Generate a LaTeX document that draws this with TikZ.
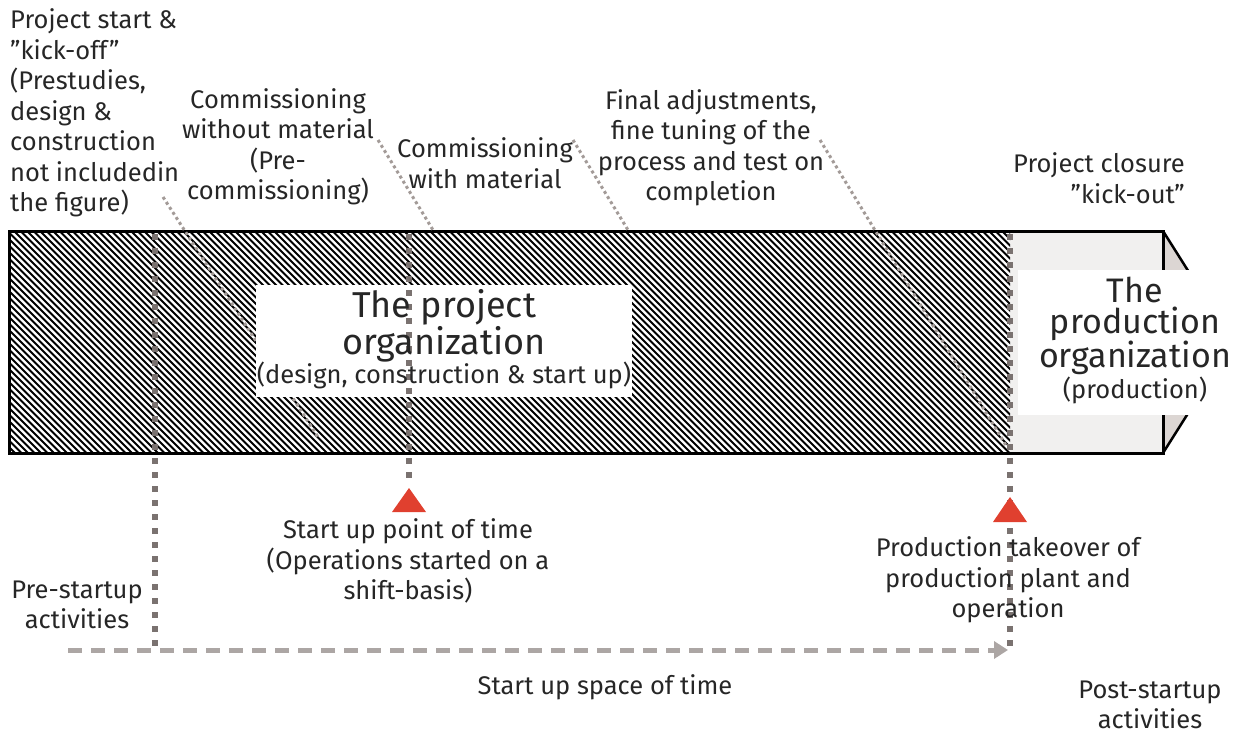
\documentclass[tikz,border=0pt]{standalone}
\usepackage{fontspec}
\setmainfont{Fira Sans}
\usetikzlibrary{arrows.meta}
\definecolor{txt}{HTML}{262626}
\definecolor{vdotc}{HTML}{7A7270}
\definecolor{pdotc}{HTML}{A39B98}
\definecolor{dashc}{HTML}{ACA6A4}
\definecolor{redc}{HTML}{E0402F}
\definecolor{prodfill}{HTML}{F1F0EF}
\definecolor{tipfill}{HTML}{DCD6D3}
\tikzset{
  lbl/.style={inner sep=0pt, text=txt, font=\fontsize{25.5}{30.5}\selectfont},
  bigl/.style={inner sep=0pt, text=txt, font=\fontsize{36}{32}\selectfont, align=center},
  bigp/.style={inner sep=0pt, text=txt, font=\fontsize{34}{31}\selectfont, align=center},
  vdot/.style={draw=vdotc, line width=6pt, dash pattern=on 6pt off 8pt},
  pdot/.style={draw=pdotc, line width=3pt, dash pattern=on 3pt off 3pt},
  darrow/.style={draw=dashc, line width=5pt, dash pattern=on 14pt off 9pt, -{Triangle[length=14pt,width=17pt]}},
  redtri/.style={fill=redc}
}
\begin{document}
\begin{tikzpicture}[x=1pt,y=-1pt]
\useasboundingbox (0,0) rectangle (1250,734);
% production part and tip
\fill[prodfill] (1010,231) rectangle (1163,453);
\filldraw[fill=tipfill, draw=black, line width=2.5pt, line join=miter] (1163,231) -- (1233,342) -- (1163,453);
% hatching
\begin{scope}
\clip (9,231) rectangle (1010,453);
\foreach \i in {0,...,190} {
  \draw[line width=1.8pt] ({-220+\i*6.5},231) -- ({2+\i*6.5},453);
}
\end{scope}
\draw[line width=3pt] (9,231) rectangle (1163,453);
% pointer lines
\coordinate (p1a) at (163,197); \coordinate (p1b) at (318,437);
\coordinate (p2a) at (378,140); \coordinate (p2b) at (433,230);
\coordinate (p3a) at (573,140); \coordinate (p3b) at (628,230);
\coordinate (p4a) at (820,140); \coordinate (p4b) at (1007,447);
\draw[pdot] (p1a) -- (p1b);
\draw[pdot] (p2a) -- (p2b);
\draw[pdot] (p3a) -- (p3b);
\draw[pdot] (p4a) -- (p4b);
% white boxes
\fill[white] (256,285) rectangle (632,397);
\fill[white] (1018,270) rectangle (1250,415);
% vertical dotted lines
\coordinate (v1t) at (155,234); \coordinate (v1b) at (155,650);
\coordinate (v2t) at (409,234); \coordinate (v2b) at (409,482);
\coordinate (v3t) at (1010,234); \coordinate (v3b) at (1010,646);
\draw[vdot] (v1t) -- (v1b);
\draw[vdot] (v2t) -- (v2b);
\draw[vdot] (v3t) -- (v3b);
% dashed arrow
\coordinate (da) at (68,650); \coordinate (db) at (1008,650);
\draw[darrow] (da) -- (db);
% red triangles
\fill[redtri] (392,512) -- (426,512) -- (409,488) -- cycle;
\fill[redtri] (993,522) -- (1027,522) -- (1010,497) -- cycle;
% texts
\node[lbl, align=left, anchor=west] (t1) at (10,113) {Project start \&\\”kick-off”\\(Prestudies,\\design \&\\construction\\not includedin\\the figure)};
\node[lbl, align=center] (t2) at (278,147) {Commissioning\\without material\\(Pre-\\commissioning)};
\node[lbl, align=center] (t3) at (485,163) {Commissioning\\with material};
\node[lbl, align=center] (t4) at (711,148) {Final adjustments,\\fine tuning of the\\process and test on\\completion};
\node[lbl, align=right, anchor=east] (t5) at (1185,178) {Project closure\\”kick-out”};
\node[lbl, align=center] (t6) at (408,561) {Start up point of time\\(Operations started on a\\shift-basis)};
\node[lbl, align=center] (t7) at (1008,580) {Production takeover of\\production plant and\\operation};
\node[lbl, align=center] (t8) at (77,605) {Pre-startup\\activities};
\node[lbl, align=center] (t9) at (605,687) {Start up space of time};
\node[lbl, align=center] (t10) at (1150,705) {Post-startup\\activities};
\node[bigl] (b1) at (444,326) {The project\\organization};
\node[lbl] (b1s) at (444,375) {(design, construction \& start up)};
\node[bigp] (b2) at (1135,326) {The\\production\\organization};
\node[lbl] (b2s) at (1135,390) {(production)};
\end{tikzpicture}
\end{document}
